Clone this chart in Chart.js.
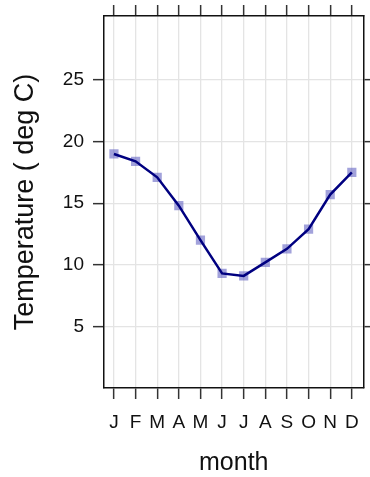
<!DOCTYPE html>
<html>
<head>
<meta charset="utf-8">
<script src="https://cdn.jsdelivr.net/npm/chart.js@4/dist/chart.umd.min.js"></script>
<style>
  html, body { margin: 0; padding: 0; background: #fff; }
  #wrap { width: 370px; height: 477px; }
</style>
</head>
<body>
<div id="wrap"><canvas id="tempChart" width="370" height="477"></canvas></div>
<script>
/* ── Data ───────────────────────────────────────────────────── */
const monthNums   = [1, 2, 3, 4, 5, 6, 7, 8, 9, 10, 11, 12];
const monthLabels = ['J', 'F', 'M', 'A', 'M', 'J', 'J', 'A', 'S', 'O', 'N', 'D'];
const meanTemp    = [19.0, 18.4, 17.1, 14.8, 12.0, 9.3, 9.1, 10.2, 11.3, 12.9, 15.7, 17.5];
const yTicks      = [5, 10, 15, 20, 25];

const points = monthNums.map((m, i) => ({ x: m, y: meanTemp[i] }));

/* ── Shared axis bits ───────────────────────────────────────── */
const FONT = "'Liberation Sans', Arial, sans-serif";
const tickFont = { family: FONT, size: 19 };
const gridStyle = {
  color: '#e4e4e4',
  lineWidth: 1.3,
  tickColor: '#333',
  tickWidth: 1.5,
  tickLength: 11
};
const boxBorder = { display: true, color: '#111', width: 1.5 };

const setMonthTicks = s => { s.ticks = monthNums.map(v => ({ value: v })); };
const setTempTicks  = s => { s.ticks = yTicks.map(v => ({ value: v })); };

// fixed axis thickness, and no extra room reserved for edge labels
const fixSize = (dim, px) => s => {
  s[dim] = px;
  s.paddingTop = s.paddingBottom = s.paddingLeft = s.paddingRight = 0;
};

new Chart(document.getElementById('tempChart'), {
  type: 'scatter',
  data: {
    datasets: [
      {
        // connecting line, drawn on top of the squares
        data: points,
        showLine: true,
        borderColor: '#000080',
        borderWidth: 2.5,
        pointRadius: 0,
        tension: 0
      },
      {
        data: points,
        showLine: false,
        pointStyle: 'rect',
        pointRadius: 6.5,
        backgroundColor: 'rgba(100,100,195,0.6)',
        borderWidth: 0
      }
    ]
  },
  options: {
    responsive: false,
    animation: false,
    layout: { padding: 0 },
    plugins: { legend: { display: false }, tooltip: { enabled: false } },
    scales: {
      x: {
        type: 'linear',
        position: 'bottom',
        min: 0.54, max: 12.54,
        afterBuildTicks: setMonthTicks,
        afterFit: fixSize('height', 89),
        grid: gridStyle,
        border: boxBorder,
        ticks: {
          color: '#111',
          font: tickFont,
          padding: 12,
          maxRotation: 0,
          autoSkip: false,
          callback: (v) => monthLabels[monthNums.indexOf(v)]
        },
        title: {
          display: true,
          text: 'month',
          color: '#111',
          font: { family: FONT, size: 25, lineHeight: 1.1 },
          padding: { top: 0, bottom: 0 }
        }
      },
      x2: {
        type: 'linear',
        position: 'top',
        min: 0.54, max: 12.54,
        afterBuildTicks: setMonthTicks,
        afterFit: fixSize('height', 16),
        grid: Object.assign({}, gridStyle, { drawOnChartArea: false }),
        border: boxBorder,
        ticks: { display: false }
      },
      y: {
        type: 'linear',
        position: 'left',
        min: 0, max: 30.2,
        afterBuildTicks: setTempTicks,
        afterFit: fixSize('width', 104),
        grid: gridStyle,
        border: boxBorder,
        ticks: {
          color: '#111',
          font: tickFont,
          padding: 9
        },
        title: {
          display: true,
          text: 'Temperature ( deg C)',
          color: '#111',
          font: { family: FONT, size: 27 },
          padding: { top: 9, bottom: 0 }
        }
      },
      y2: {
        type: 'linear',
        position: 'right',
        min: 0, max: 30.2,
        afterBuildTicks: setTempTicks,
        afterFit: fixSize('width', 5),
        grid: Object.assign({}, gridStyle, { drawOnChartArea: false }),
        border: boxBorder,
        ticks: { display: false }
      }
    }
  }
});
</script>
</body>
</html>
